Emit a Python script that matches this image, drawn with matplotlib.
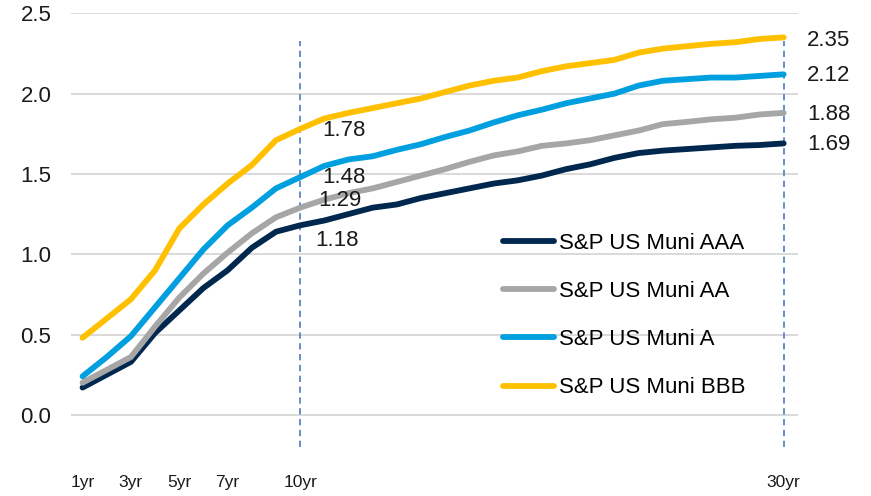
import matplotlib
matplotlib.use("Agg")
import matplotlib.pyplot as plt

plt.rcParams['font.family'] = ['Liberation Sans', 'DejaVu Sans']

years = list(range(1, 31))
aaa = [0.17, 0.25, 0.33, 0.51, 0.65, 0.79, 0.90, 1.04, 1.14, 1.18,
       1.21, 1.25, 1.29, 1.31, 1.35, 1.38, 1.41, 1.44, 1.46, 1.49,
       1.53, 1.56, 1.60, 1.63, 1.645, 1.655, 1.665, 1.675, 1.68, 1.69]
aa = [0.20, 0.28, 0.36, 0.55, 0.73, 0.88, 1.01, 1.13, 1.23, 1.29,
      1.34, 1.38, 1.41, 1.45, 1.49, 1.53, 1.575, 1.615, 1.64, 1.675,
      1.69, 1.71, 1.74, 1.77, 1.81, 1.824, 1.84, 1.85, 1.87, 1.88]
a = [0.24, 0.36, 0.49, 0.67, 0.85, 1.03, 1.18, 1.29, 1.41, 1.48,
     1.55, 1.59, 1.61, 1.65, 1.685, 1.73, 1.77, 1.82, 1.865, 1.90,
     1.94, 1.97, 2.00, 2.05, 2.08, 2.09, 2.10, 2.10, 2.11, 2.12]
bbb = [0.48, 0.60, 0.72, 0.90, 1.16, 1.31, 1.44, 1.555, 1.71, 1.78,
       1.845, 1.88, 1.91, 1.94, 1.97, 2.01, 2.05, 2.08, 2.10, 2.14,
       2.17, 2.19, 2.21, 2.255, 2.28, 2.295, 2.31, 2.32, 2.34, 2.35]

series_names = ["S&P US Muni AAA", "S&P US Muni AA", "S&P US Muni A", "S&P US Muni BBB"]
series_values = [aaa, aa, a, bbb]
colors = ["#00284F", "#A6A6A6", "#009FDF", "#FFC000"]

tick_positions = [1, 3, 5, 7, 10, 30]
tick_labels = ["1yr", "3yr", "5yr", "7yr", "10yr", "30yr"]
marker_tenors = [10, 30]

# label offsets (points) at 10yr and 30yr for each series
offsets_10 = [(11, -11), (13, 5), (16, 0), (16, -1)]
offsets_30 = [(17, -1), (17, -1), (17, -1), (17, -2)]

FS = 16

fig = plt.figure(figsize=(8.71, 4.96), dpi=100)
ax = fig.add_axes([70.7 / 871, 1 - 447 / 496, (797.7 - 70.7) / 871, (447 - 13.3) / 496])

for name, vals, c in zip(series_names, series_values, colors):
    ax.plot(years, vals, color=c, lw=4.2, label=name, solid_capstyle='round',
            solid_joinstyle='round', zorder=3)

for t in marker_tenors:
    ax.axvline(t, ymin=0, ymax=(2.33 + 0.2) / 2.7, color="#5A86C2", lw=1.3,
               linestyle=(0, (3.5, 2.5)), zorder=2)

for vals, o10, o30 in zip(series_values, offsets_10, offsets_30):
    i10 = years.index(10)
    i30 = years.index(30)
    ax.annotate(f"{vals[i10]:.2f}", (years[i10], vals[i10]), xytext=o10,
                textcoords='offset points', ha='left', va='center', fontsize=FS,
                color='#1a1a1a', zorder=4)
    ax.annotate(f"{vals[i30]:.2f}", (years[i30], vals[i30]), xytext=o30,
                textcoords='offset points', ha='left', va='center', fontsize=FS,
                color='#1a1a1a', annotation_clip=False, zorder=4)

ax.set_xlim(0.51, 30.58)
ax.set_ylim(-0.2, 2.5)
ax.set_yticks([0, 0.5, 1.0, 1.5, 2.0, 2.5])
ax.set_yticklabels([f"{v:.1f}" for v in [0, 0.5, 1.0, 1.5, 2.0, 2.5]])
ax.set_xticks(tick_positions)
ax.set_xticklabels(tick_labels)
ax.tick_params(axis='y', length=0, pad=14, labelsize=FS, labelcolor='#1a1a1a')
ax.tick_params(axis='x', length=0, pad=20, labelsize=12.5, labelcolor='#1a1a1a')
ax.grid(axis='y', color='#D9D9D9', lw=1.4, zorder=0)
ax.grid(axis='x', visible=False)
for s in ax.spines.values():
    s.set_visible(False)

leg = ax.legend(loc='upper left', bbox_to_anchor=((503 - 70.7) / 727, 1 - (233 - 13.3) / 433.7),
                frameon=False, fontsize=FS, handlelength=2.3, handletextpad=0.2,
                labelspacing=1.22, borderaxespad=0, borderpad=0)
for h in leg.get_lines():
    h.set_linewidth(4.2)

fig.savefig("out.png", dpi=100)
